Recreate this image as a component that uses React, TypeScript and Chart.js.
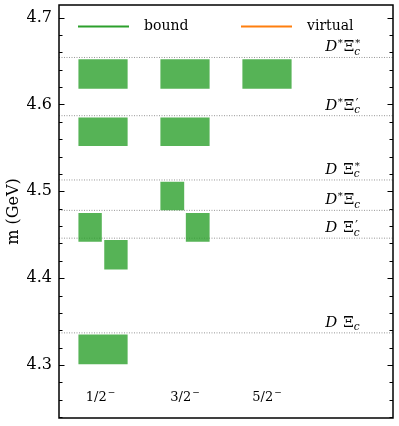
import React, { useEffect, useRef } from 'react';
import { Chart, registerables } from 'chart.js';

Chart.register(...registerables);

const FAMILY = '"DejaVu Serif", serif';

const X_MIN = 0.463;
const X_MAX = 4.537;
const Y_MIN = 4.239;
const Y_MAX = 4.7144;

// thresholds (GeV)
const thresholdValues = [4.337, 4.446, 4.478, 4.513, 4.587, 4.654];
const thresholdMeson = ['D', 'D', 'D*', 'D', 'D*', 'D*'];
const thresholdMark = ['', '′', '', '*', '′', '*'];
const thresholdLabelX = 3.71;

// spin labels
const spinLabels = ['1/2', '3/2', '5/2'];
const spinLabelX = [0.97, 2.0, 3.0];
const spinLabelY = 4.258;

// bound-state boxes
const boxX0 = [0.7, 0.7, 0.7, 0.7, 1.015, 1.7, 1.7, 1.7, 2.01, 2.7];
const boxX1 = [1.3, 1.3, 1.3, 0.985, 1.3, 2.3, 2.3, 1.99, 2.3, 3.3];
const boxLow = [4.618, 4.552, 4.301, 4.442, 4.41, 4.618, 4.552, 4.478, 4.442, 4.618];
const boxHigh = [4.652, 4.585, 4.335, 4.475, 4.444, 4.652, 4.585, 4.511, 4.475, 4.652];

const legendLabels = ['bound', 'virtual'];
const legendColors = ['#2ca02c', '#ff7f0e'];

function drawThresholdLabel(ctx: CanvasRenderingContext2D, x0: number, base: number, meson: string, mark: string) {
  let cx = x0;
  ctx.textAlign = 'left';
  ctx.textBaseline = 'alphabetic';
  ctx.fillStyle = '#000';
  ctx.font = `italic 15px ${FAMILY}`;
  ctx.fillText('D', cx, base);
  cx += ctx.measureText('D').width;
  if (meson === 'D*') {
    ctx.font = `10px ${FAMILY}`;
    ctx.fillText('*', cx + 0.5, base - 5);
    cx += ctx.measureText('*').width + 1.5;
  } else {
    cx += 6;
  }
  ctx.font = `15px ${FAMILY}`;
  ctx.fillText('Ξ', cx, base);
  cx += ctx.measureText('Ξ').width;
  ctx.font = `italic 10.5px ${FAMILY}`;
  ctx.fillText('c', cx, base + 3.5);
  if (mark === '*') {
    ctx.font = `10px ${FAMILY}`;
    ctx.fillText('*', cx + 1, base - 5);
  } else if (mark) {
    ctx.font = `12px ${FAMILY}`;
    ctx.fillText('′', cx + 1.5, base - 2);
  }
}

const decorPlugin = {
  id: 'decor',
  afterDraw(chart: any) {
    const { ctx, chartArea: a, scales } = chart;
    const xs = scales.x;
    const ys = scales.y;
    ctx.save();
    // ticks (inward, left and right)
    ctx.strokeStyle = '#000';
    ctx.lineWidth = 1;
    for (let k = Math.ceil(Y_MIN * 50); k <= Math.floor(Y_MAX * 50); k++) {
      const py = Math.round(ys.getPixelForValue(k / 50)) + 0.5;
      const len = k % 5 === 0 ? 5.5 : 3.5;
      ctx.beginPath();
      ctx.moveTo(a.left, py);
      ctx.lineTo(a.left + len, py);
      ctx.moveTo(a.right, py);
      ctx.lineTo(a.right - len, py);
      ctx.stroke();
    }
    // frame
    ctx.lineWidth = 1.5;
    ctx.strokeRect(a.left, a.top, a.right - a.left, a.bottom - a.top);

    // threshold labels
    for (let i = 0; i < thresholdValues.length; i++) {
      const px = xs.getPixelForValue(thresholdLabelX);
      const py = ys.getPixelForValue(thresholdValues[i]) - 6;
      drawThresholdLabel(ctx, px, py, thresholdMeson[i], thresholdMark[i]);
    }

    // spin labels
    for (let i = 0; i < spinLabels.length; i++) {
      ctx.font = `13px ${FAMILY}`;
      const w = ctx.measureText(spinLabels[i]).width;
      ctx.font = `9px ${FAMILY}`;
      const wm = ctx.measureText('−').width;
      const cx = xs.getPixelForValue(spinLabelX[i]);
      const base = ys.getPixelForValue(spinLabelY);
      const x0 = cx - (w + wm + 1) / 2;
      ctx.fillStyle = '#000';
      ctx.textAlign = 'left';
      ctx.textBaseline = 'alphabetic';
      ctx.font = `13px ${FAMILY}`;
      ctx.fillText(spinLabels[i], x0, base);
      ctx.font = `9px ${FAMILY}`;
      ctx.fillText('−', x0 + w + 1, base - 6);
    }

    // legend
    const legX = [a.left + 19, a.left + 182];
    const legY = a.top + 21.5;
    for (let i = 0; i < legendLabels.length; i++) {
      ctx.strokeStyle = legendColors[i];
      ctx.lineWidth = 2;
      ctx.beginPath();
      ctx.moveTo(legX[i], legY);
      ctx.lineTo(legX[i] + 51, legY);
      ctx.stroke();
      ctx.fillStyle = '#000';
      ctx.font = `14px ${FAMILY}`;
      ctx.textAlign = 'left';
      ctx.textBaseline = 'middle';
      ctx.fillText(legendLabels[i], legX[i] + 66, legY);
    }
    ctx.restore();
  },
};

export default function App() {
  const ref = useRef<HTMLCanvasElement | null>(null);

  useEffect(() => {
    if (!ref.current) return;
    const boxes = boxX0.map((x0, i) => ({
      label: 'box' + i,
      data: [
        { x: x0, y: boxLow[i] },
        { x: boxX1[i], y: boxLow[i] },
        { x: boxX1[i], y: boxHigh[i] },
        { x: x0, y: boxHigh[i] },
        { x: x0, y: boxLow[i] },
      ],
      showLine: true,
      fill: 'shape',
      backgroundColor: 'rgba(44,160,44,0.8)',
      borderColor: 'rgba(44,160,44,0)',
      borderWidth: 0,
      pointRadius: 0,
    }));
    const lines = thresholdValues.map((v, i) => ({
      label: 'thr' + i,
      data: [
        { x: X_MIN, y: v },
        { x: X_MAX, y: v },
      ],
      showLine: true,
      fill: false,
      borderColor: 'rgba(140,140,140,0.9)',
      borderWidth: 1,
      borderDash: [1, 1.5],
      pointRadius: 0,
    }));

    const chart = new Chart(ref.current, {
      type: 'scatter',
      data: { datasets: [...boxes, ...lines] as any },
      options: {
        responsive: false,
        animation: false,
        devicePixelRatio: 1,
        layout: { autoPadding: false, padding: { left: 0, top: 5, right: 6, bottom: 8 } },
        plugins: { legend: { display: false }, tooltip: { enabled: false } },
        scales: {
          x: { type: 'linear', min: X_MIN, max: X_MAX, display: false },
          y: {
            type: 'linear',
            min: Y_MIN,
            max: Y_MAX,
            afterFit: (s: any) => {
              s.width = 59;
              s.paddingTop = 0;
              s.paddingBottom = 0;
            },
            grid: { display: false, drawTicks: false },
            border: { display: false },
            ticks: {
              stepSize: 0.1,
              includeBounds: false,
              padding: 7,
              color: '#000',
              font: { family: FAMILY, size: 16 },
              callback: (v: any) => Number(v).toFixed(1),
            },
            title: {
              display: true,
              text: 'm (GeV)',
              color: '#000',
              font: { family: FAMILY, size: 16 },
            },
          },
        },
      } as any,
      plugins: [decorPlugin],
    });
    return () => chart.destroy();
  }, []);

  return (
    <canvas
      ref={ref}
      width={399}
      height={426}
      style={{ position: 'fixed', left: 0, top: 0, display: 'block', background: '#fff' }}
    />
  );
}
